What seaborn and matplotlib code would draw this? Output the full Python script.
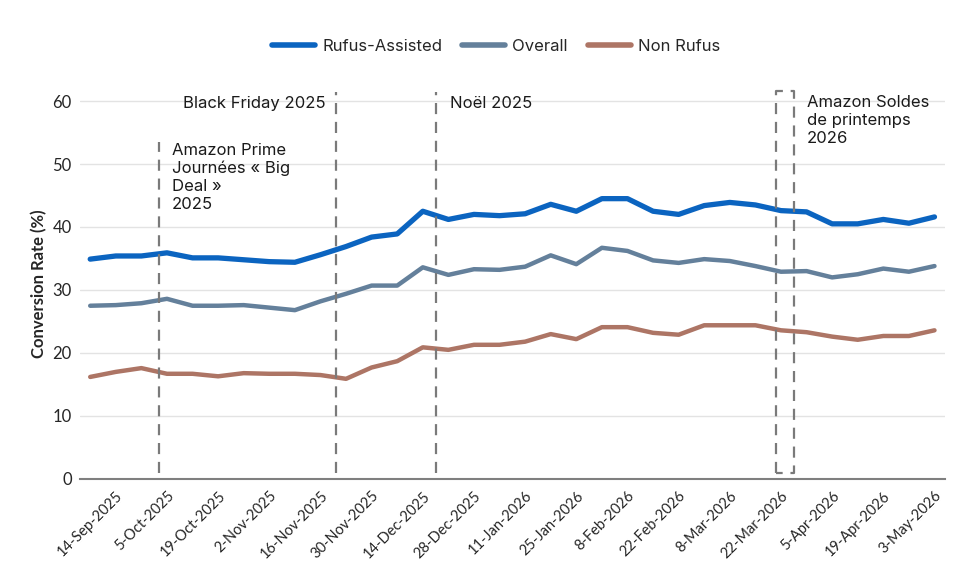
import numpy as np
import pandas as pd
import matplotlib
matplotlib.use("Agg")
import matplotlib.pyplot as plt
import seaborn as sns

# weekly conversion rates (%)
rufus = [34.9, 35.4, 35.4, 35.9, 35.1, 35.1, 34.8, 34.5, 34.4, 35.6, 36.9, 38.4,
         38.9, 42.5, 41.2, 42.0, 41.8, 42.1, 43.6, 42.5, 44.5, 44.5, 42.5, 42.0,
         43.4, 43.9, 43.5, 42.6, 42.4, 40.5, 40.5, 41.2, 40.6, 41.6]
overall = [27.5, 27.6, 27.9, 28.6, 27.5, 27.5, 27.6, 27.2, 26.8, 28.2, 29.4, 30.7,
           30.7, 33.6, 32.4, 33.3, 33.2, 33.7, 35.5, 34.1, 36.7, 36.2, 34.7, 34.3,
           34.9, 34.6, 33.8, 32.9, 33.0, 32.0, 32.5, 33.4, 32.9, 33.8]
non_rufus = [16.2, 17.0, 17.6, 16.7, 16.7, 16.3, 16.8, 16.7, 16.7, 16.5, 15.9, 17.7,
             18.7, 20.9, 20.5, 21.3, 21.3, 21.8, 23.0, 22.2, 24.1, 24.1, 23.2, 22.9,
             24.4, 24.4, 24.4, 23.6, 23.3, 22.6, 22.1, 22.7, 22.7, 23.6]

tick_labels = ["14-Sep-2025", "5-Oct-2025", "19-Oct-2025", "2-Nov-2025", "16-Nov-2025",
               "30-Nov-2025", "14-Dec-2025", "28-Dec-2025", "11-Jan-2026", "25-Jan-2026",
               "8-Feb-2026", "22-Feb-2026", "8-Mar-2026", "22-Mar-2026", "5-Apr-2026",
               "19-Apr-2026", "3-May-2026"]

series_names = ["Rufus-Assisted", "Overall", "Non Rufus"]
colors = ["#0b64c0", "#64809b", "#ad7565"]

# event markers (position on week axis)
prime_x = 2.7
black_friday_x = 9.6
noel_x = 13.5
soldes_x = (26.8, 27.5)

week = np.arange(len(rufus))
df = pd.DataFrame({
    "week": np.tile(week, 3),
    "rate": rufus + overall + non_rufus,
    "series": np.repeat(series_names, len(rufus)),
})

sns.set_theme(style="white")
plt.rcParams["font.family"] = ["Inter", "DejaVu Sans"]

fig = plt.figure(figsize=(9.8, 5.62), dpi=100)
ax = fig.add_axes([0.0816, 0.1477, 0.8824, 0.695])

sns.lineplot(data=df, x="week", y="rate", hue="series", hue_order=series_names,
             palette=colors, ax=ax, legend=False, linewidth=3.2)
ax.lines[0].set_linewidth(3.8)

ax.set_xlim(-0.4, len(rufus) - 0.6)
ax.set_ylim(0, 62)
ax.set_yticks([0, 10, 20, 30, 40, 50, 60])
ax.yaxis.grid(True, color="#e3e3e3", linewidth=1)
ax.set_axisbelow(True)
for s in ["left", "right", "top"]:
    ax.spines[s].set_visible(False)
ax.spines["bottom"].set_color("#7f7f7f")
ax.spines["bottom"].set_linewidth(1.5)

ticks = np.arange(1, len(rufus), 2)
ax.set_xticks(ticks)
ax.set_xticklabels(tick_labels, rotation=45, ha="right", rotation_mode="anchor",
                   family=["Lato", "DejaVu Sans"], fontsize=10.5)
for lbl in ax.get_yticklabels():
    lbl.set_family(["Lato", "DejaVu Sans"])
    lbl.set_fontsize(12)
ax.tick_params(axis="x", length=0, pad=7)
ax.tick_params(axis="y", length=0, pad=6)
ax.set_xlabel("")
ax.set_ylabel("Conversion Rate (%)", fontsize=12, fontweight="bold",
              family=["Lato", "DejaVu Sans"], labelpad=4)

dash = dict(color="#7a7a7a", linewidth=1.6, linestyle=(0, (5, 3.5)))
ax.plot([prime_x, prime_x], [1, 53.5], **dash)
ax.plot([black_friday_x, black_friday_x], [1, 61.4], **dash)
ax.plot([noel_x, noel_x], [1, 61.4], **dash)
x0, x1 = soldes_x
ax.plot([x0, x0, x1, x1, x0], [1, 61.6, 61.6, 1, 1], **dash)

tfs = 12
ax.text(black_friday_x - 0.4, 59.6, "Black Friday 2025", ha="right", va="center",
        fontsize=tfs, color="#1a1a1a")
ax.text(noel_x + 0.55, 59.6, "Noël 2025", ha="left", va="center",
        fontsize=tfs, color="#1a1a1a")
ax.text(prime_x + 0.5, 53.4, "Amazon Prime\nJournées « Big\nDeal »\n2025",
        ha="left", va="top", fontsize=tfs, color="#1a1a1a", linespacing=1.25)
ax.text(x1 + 0.5, 61.0, "Amazon Soldes\nde printemps\n2026",
        ha="left", va="top", fontsize=tfs, color="#1a1a1a", linespacing=1.25)

handles = [plt.Line2D([], [], color=c, linewidth=4, solid_capstyle="round") for c in colors]
fig.legend(handles, series_names, loc="center", bbox_to_anchor=(0.506, 0.918),
           ncol=3, frameon=False, fontsize=12, handlelength=2.6, handletextpad=0.4,
           columnspacing=1.2)

fig.savefig("out.png", dpi=100, facecolor="white")
